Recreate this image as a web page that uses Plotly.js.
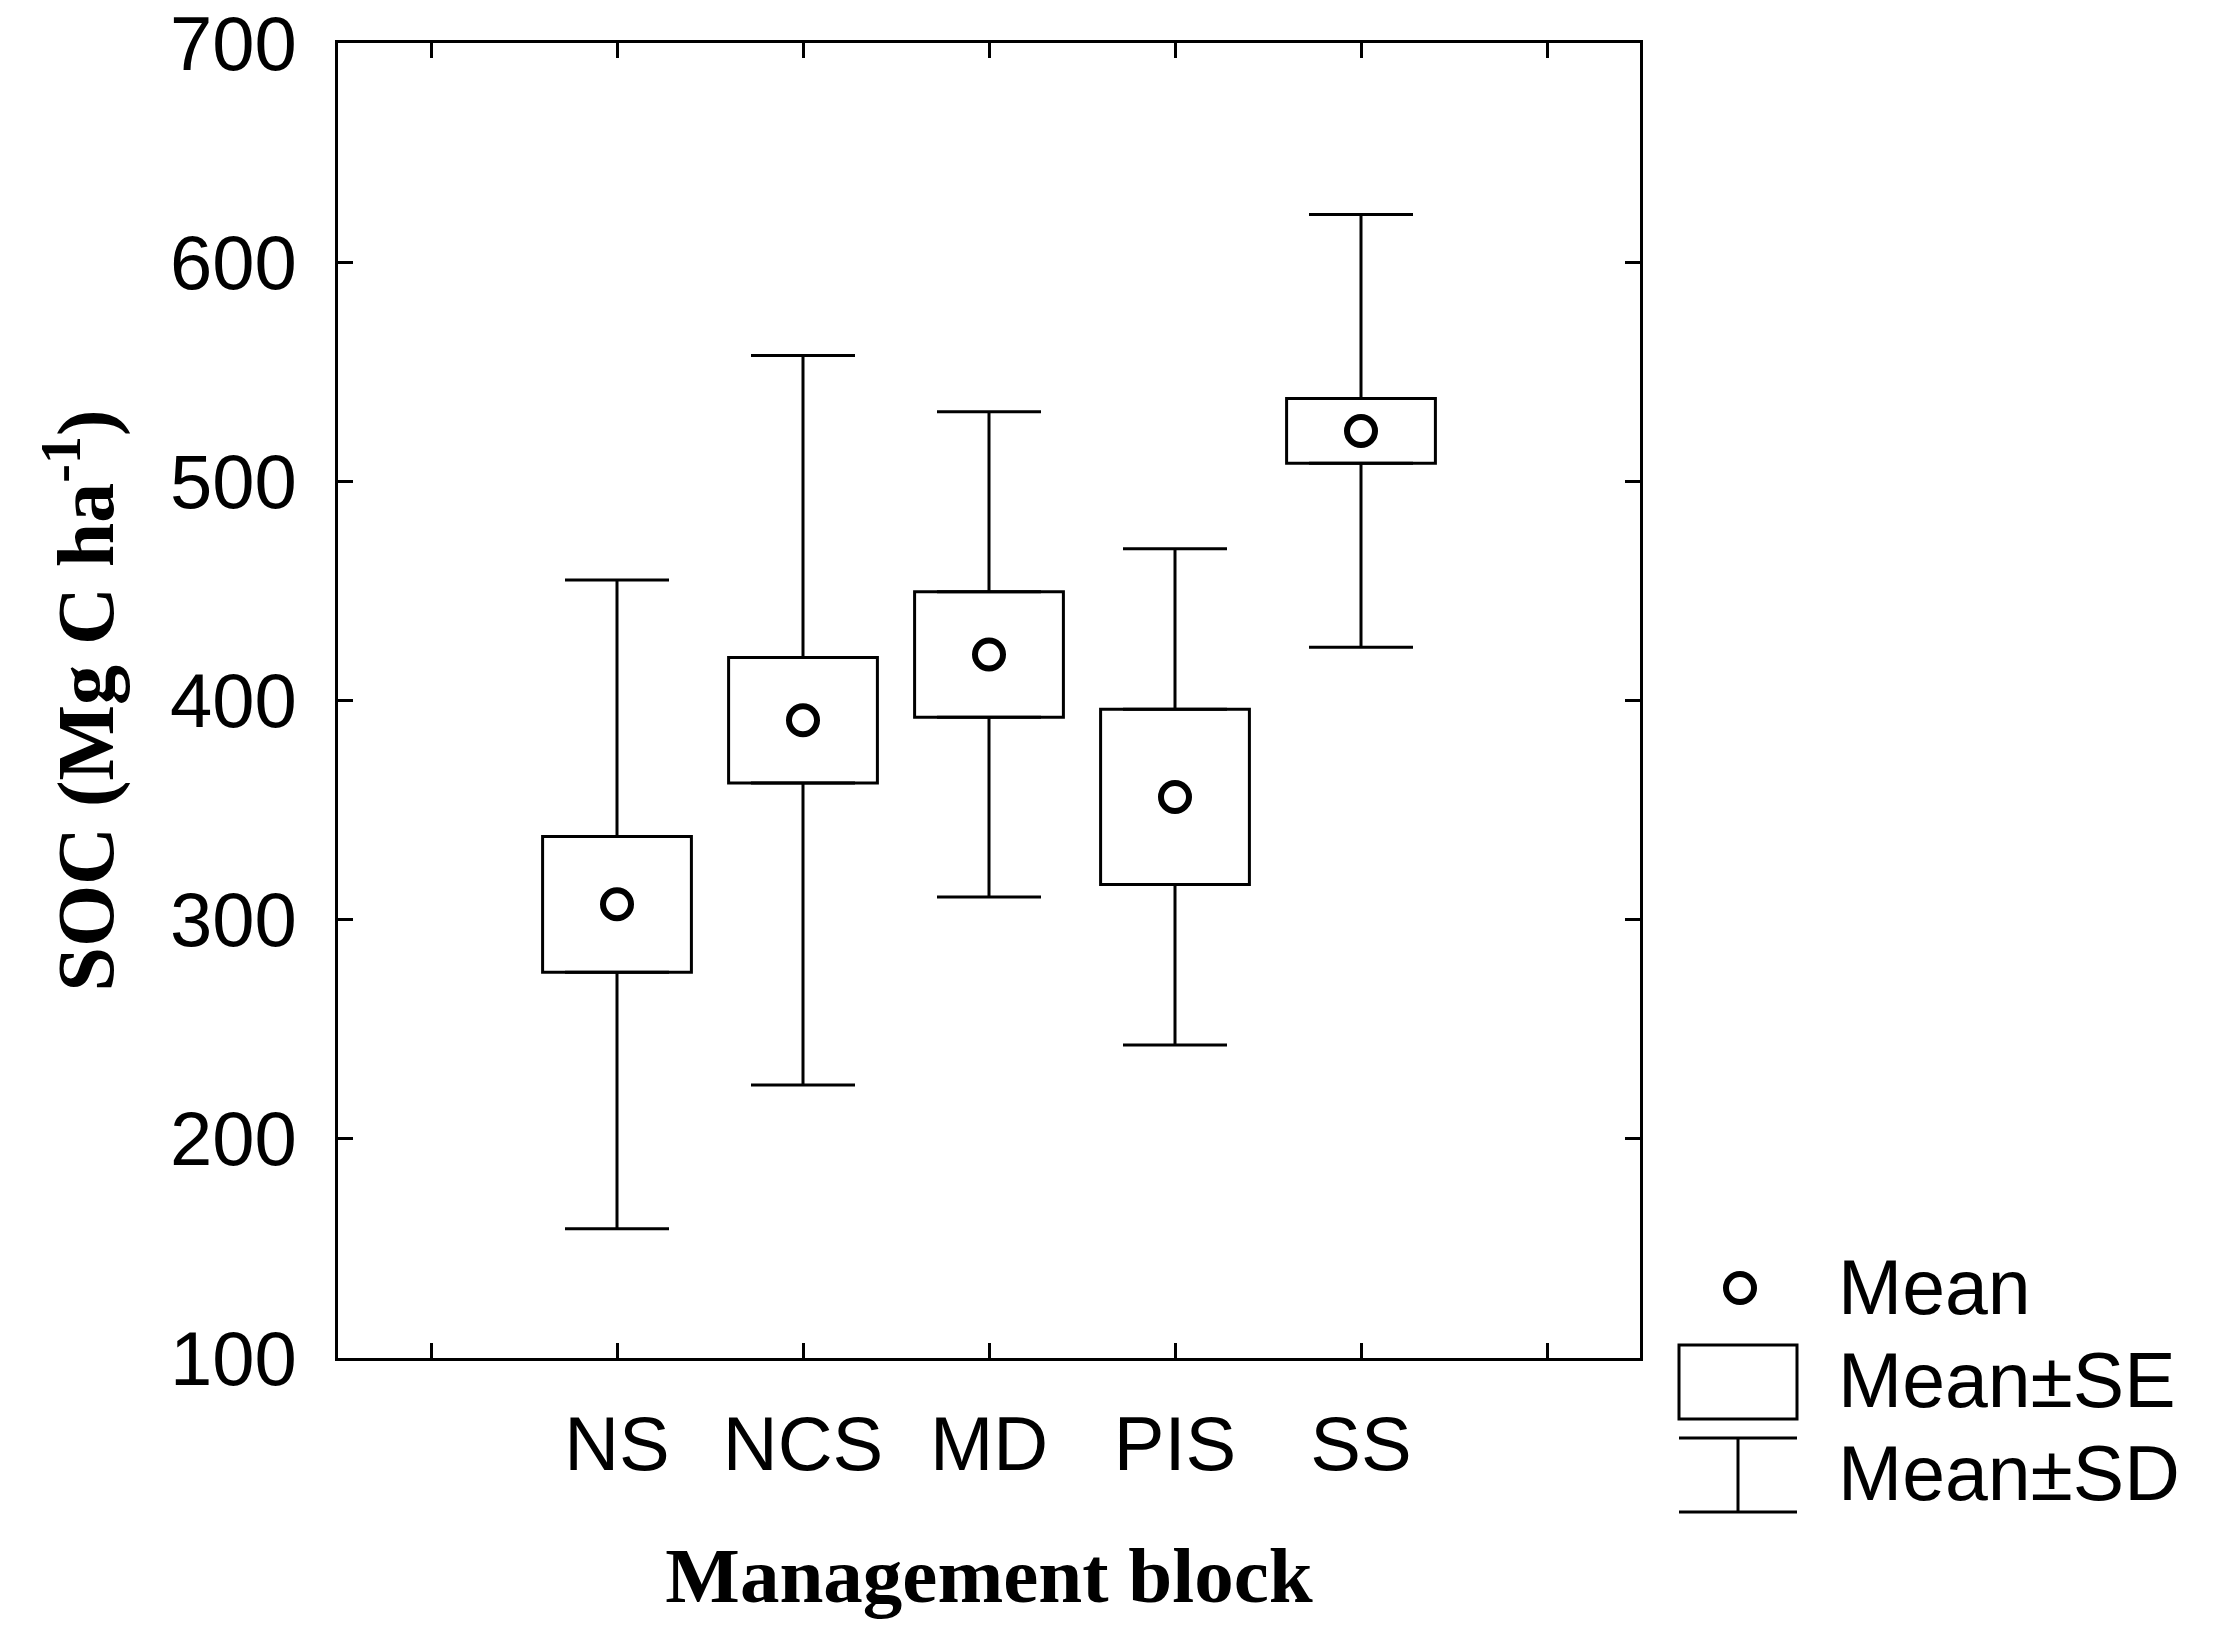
<!DOCTYPE html>
<html>
<head>
<meta charset="utf-8">
<script src="https://cdn.plot.ly/plotly-3.0.1.min.js"></script>
<style>
  html, body { margin: 0; padding: 0; background: #fff; }
  #chart { width: 2217px; height: 1652px; }
</style>
</head>
<body>
<div id="chart"></div>
<script>
// Values (SOC, Mg C ha-1)
const blocks = ["NS", "NCS", "MD", "PIS", "SS"];
const means = [307, 391, 421, 356, 523];
const se = [31, 28.6, 28.6, 40, 14.8];
const sd = [148, 166.4, 110.7, 113.2, 98.7];

// Blocks sit on 1..5; unlabeled ticks at 0 and 6 frame them
const xPos = blocks.map((b, i) => i + 1);
const xEndTicks = [0, 6];

const sansFont = "Liberation Sans, Arial, sans-serif";
const serifFont = "Liberation Serif, Times New Roman, serif";

// Plot area in pixels, used to place the hand drawn legend.
const W = 2217, H = 1652;
const plotL = 338, plotR = 1640, plotT = 43, plotB = 1358;
const px = x => (x - plotL) / (plotR - plotL);
const py = y => (plotB - y) / (plotB - plotT);

// Mean +/- SE box
const seBox = {
  type: "bar",
  x: xPos,
  base: means.map((m, i) => m - se[i]),
  y: se.map(s => 2 * s),
  width: 0.8,
  marker: { color: "#ffffff", line: { color: "#000000", width: 3 } },
  hoverinfo: "skip",
  showlegend: false
};

// Whiskers from box edge out to mean +/- SD
const upperWhisker = {
  type: "scatter",
  mode: "markers",
  x: xPos,
  y: means.map((m, i) => m + se[i]),
  marker: { size: 1, color: "rgba(0,0,0,0)" },
  error_y: {
    type: "data",
    symmetric: false,
    array: sd.map((s, i) => s - se[i]),
    arrayminus: sd.map(() => 0),
    width: 52,
    thickness: 3,
    color: "#000000"
  },
  hoverinfo: "skip",
  showlegend: false
};

const lowerWhisker = {
  type: "scatter",
  mode: "markers",
  x: xPos,
  y: means.map((m, i) => m - se[i]),
  marker: { size: 1, color: "rgba(0,0,0,0)" },
  error_y: {
    type: "data",
    symmetric: false,
    array: sd.map(() => 0),
    arrayminus: sd.map((s, i) => s - se[i]),
    width: 52,
    thickness: 3,
    color: "#000000"
  },
  hoverinfo: "skip",
  showlegend: false
};

const meanPts = {
  type: "scatter",
  mode: "markers",
  x: xPos,
  y: means,
  marker: {
    symbol: "circle-open",
    size: 28,
    color: "#000000",
    line: { color: "#000000", width: 6 }
  },
  showlegend: false
};

// Legend drawn by hand (circle, box, I-beam) to the right of the plot
const legendShapes = [
  { type: "circle", xref: "paper", yref: "paper",
    x0: px(1726), x1: px(1754), y0: py(1302), y1: py(1274),
    line: { color: "#000", width: 6 } },
  { type: "rect", xref: "paper", yref: "paper",
    x0: px(1679), x1: px(1797), y0: py(1419), y1: py(1345),
    line: { color: "#000", width: 3 } },
  { type: "line", xref: "paper", yref: "paper",
    x0: px(1679), x1: px(1797), y0: py(1438), y1: py(1438),
    line: { color: "#000", width: 3 } },
  { type: "line", xref: "paper", yref: "paper",
    x0: px(1738), x1: px(1738), y0: py(1438), y1: py(1512),
    line: { color: "#000", width: 3 } },
  { type: "line", xref: "paper", yref: "paper",
    x0: px(1679), x1: px(1797), y0: py(1512), y1: py(1512),
    line: { color: "#000", width: 3 } }
];

const legendLabels = ["Mean", "Mean±SE", "Mean±SD"];
const legendRows = [1287, 1380, 1473];
const legendText = legendLabels.map((t, i) => ({
  xref: "paper", yref: "paper",
  x: px(1836), y: py(legendRows[i]),
  xanchor: "left", yanchor: "middle",
  text: t, showarrow: false,
  font: { family: sansFont, size: 77, color: "#000" }
}));

const layout = {
  width: W,
  height: H,
  margin: { l: plotL, r: W - plotR, t: plotT, b: H - plotB },
  paper_bgcolor: "#ffffff",
  plot_bgcolor: "#ffffff",
  showlegend: false,
  barmode: "overlay",
  font: { family: sansFont, color: "#000" },
  xaxis: {
    range: [-0.5, 6.5],
    tickmode: "array",
    tickvals: xPos,
    ticktext: blocks,
    ticks: "inside",
    ticklen: 15,
    tickwidth: 3,
    tickcolor: "#000",
    minor: {
      tickmode: "array",
      tickvals: xEndTicks,
      ticks: "inside",
      ticklen: 15,
      tickwidth: 3,
      tickcolor: "#000",
      showgrid: false
    },
    showline: true,
    linecolor: "#000",
    linewidth: 3,
    mirror: "allticks",
    showgrid: false,
    zeroline: false,
    ticklabelstandoff: 18,
    tickfont: { family: sansFont, size: 76, color: "#000" },
    title: {
      text: "Management block",
      standoff: 62,
      font: { family: serifFont, size: 79, weight: "bold", color: "#000" }
    }
  },
  yaxis: {
    range: [100, 700],
    dtick: 100,
    ticks: "inside",
    ticklen: 15,
    tickwidth: 3,
    tickcolor: "#000",
    showline: true,
    linecolor: "#000",
    linewidth: 3,
    mirror: "allticks",
    showgrid: false,
    zeroline: false,
    ticklabelstandoff: 23,
    ticklabeloverflow: "allow",
    tickfont: { family: sansFont, size: 76, color: "#000" },
    title: {
      text: "SOC (Mg C ha<sup>-1</sup>)",
      standoff: 30,
      font: { family: serifFont, size: 80, weight: "bold", color: "#000" }
    }
  },
  shapes: legendShapes,
  annotations: legendText
};

Plotly.newPlot("chart", [seBox, upperWhisker, lowerWhisker, meanPts], layout, {
  staticPlot: true,
  displayModeBar: false
});
</script>
</body>
</html>
